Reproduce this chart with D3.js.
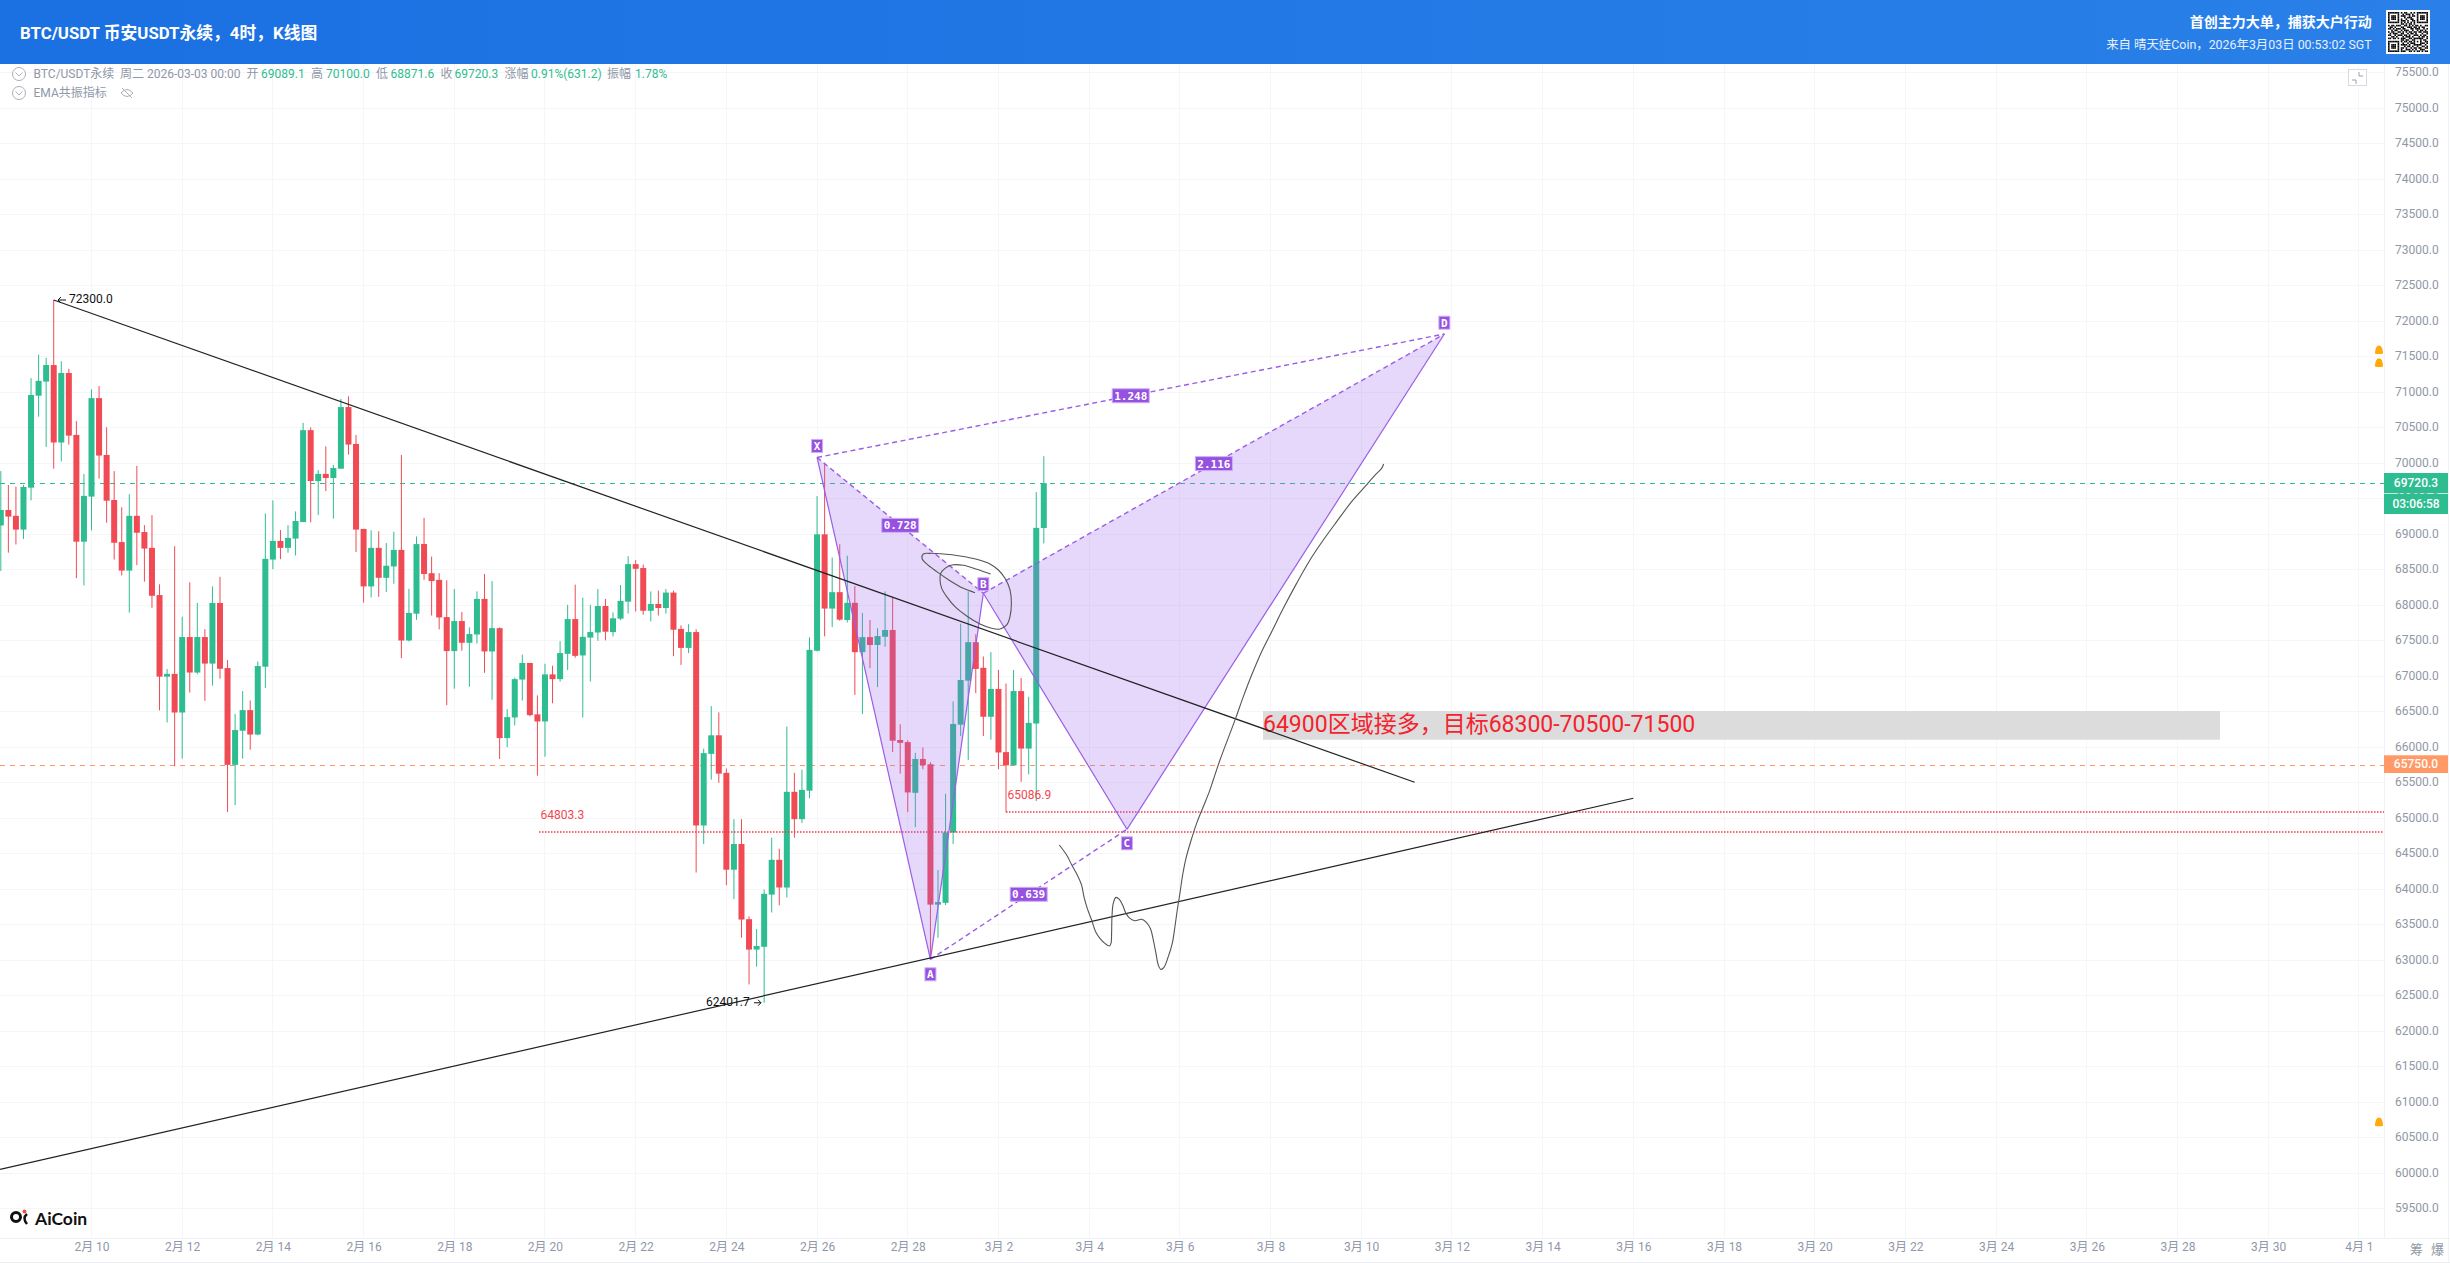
<!DOCTYPE html>
<html>
<head>
<meta charset="utf-8">
<title>BTC/USDT</title>
<script src="https://cdn.jsdelivr.net/npm/d3@7"></script>
<style>
html, body { margin: 0; padding: 0; background: #fff; overflow: hidden; }
svg { display: block; }
text { font-family: Roboto, "Noto Sans CJK SC", sans-serif; }
</style>
</head>
<body>
<svg width="2450" height="1263"></svg>
<script>
// 4h bars, first one is 2月 8 00:00, bar number 12 is 2月 10 00:00
const opens = [
  69124, 69342, 69260, 69066, 69657, 70952, 71151, 71384, 70293, 71272,
  70400, 68896, 69531, 70918, 70118, 69483, 68891, 68489, 69260, 69032,
  68809, 68144, 66995, 67034, 66490, 67553, 67053, 67553, 67179, 68033,
  67116, 65753, 66233, 66524, 66180, 67135, 68644, 68906, 68809, 68940,
  69172, 70467, 69750, 69851, 69793, 69924, 70792, 70273, 69076, 68266,
  68809, 68387, 68547, 68780, 67504, 67882, 68864, 68452, 68358, 67834,
  67355, 67778, 67472, 67589, 68090, 67350, 67678, 66130, 66420, 66954,
  67188, 66464, 66364, 67027, 66960, 67316, 67806, 67294, 67545, 67617,
  67990, 67623, 67812, 68051, 68580, 68525, 67923, 68018, 67962, 68179,
  67667, 67400, 67623, 64899, 65907, 66169, 65640, 64276, 64638, 63579,
  63151, 63190, 63925, 64415, 64025, 65373, 64988, 65389, 67360, 69000,
  67954, 68185, 67793, 68035, 67340, 67552, 67441, 67557, 67652, 66103,
  66073, 65359, 65836, 65761, 63784, 63809, 64800, 66319, 66938, 67481,
  67119, 66430, 66822, 65932, 65746, 66792, 65982, 66335, 69089.1
];
const highs = [
  69890, 69696, 69672, 69696, 71200, 71530, 71486, 72300, 71437, 71331,
  70594, 69851, 71040, 71088, 70506, 69890, 69381, 69565, 69963, 69129,
  69270, 68295, 67102, 68833, 67839, 68324, 68033, 67664, 68266, 68401,
  67228, 66471, 66791, 66660, 67208, 69294, 69478, 69061, 69129, 69323,
  70569, 70506, 69905, 70239, 69978, 70909, 70943, 70400, 69076, 69056,
  69042, 68877, 69037, 70118, 68232, 68969, 69232, 68686, 68452, 68352,
  68229, 67907, 67689, 68196, 68441, 68341, 67689, 66537, 66982, 67305,
  67188, 66731, 67177, 67149, 67494, 68007, 68291, 68107, 68007, 68229,
  68090, 67901, 68285, 68692, 68636, 68575, 68196, 68207, 68229, 68207,
  67717, 67734, 67661, 65980, 66581, 66492, 65701, 64988, 64988, 63618,
  63440, 63997, 64727, 64571, 66291, 65640, 65685, 67550, 69539, 70006,
  68673, 68860, 68699, 68271, 67894, 67793, 67677, 68196, 68120, 66324,
  66098, 65922, 65998, 65791, 64272, 65344, 66646, 67743, 68196, 67592,
  67280, 67340, 67089, 66898, 67089, 66978, 66712, 69594, 70100
];
const lows = [
  68484, 68741, 68857, 68935, 69478, 70657, 70230, 69924, 70026, 70264,
  68382, 68280, 69056, 69784, 69163, 68644, 68421, 67897, 68566, 68333,
  67965, 66520, 66350, 65734, 65840, 66772, 67029, 66655, 66869, 66966,
  65089, 65186, 65840, 65967, 66170, 66835, 68508, 68649, 68741, 68702,
  69172, 69168, 69270, 69609, 69221, 69924, 70123, 68751, 68038, 68110,
  68120, 68188, 68304, 67257, 67490, 67795, 68358, 67856, 67661, 66592,
  66826, 67361, 66854, 67461, 67049, 66670, 65835, 66002, 66308, 66659,
  66436, 65601, 65868, 66620, 66926, 67088, 67261, 66420, 66926, 67500,
  67506, 67561, 67790, 67884, 67912, 67868, 67773, 67856, 67884, 67283,
  67160, 67327, 64236, 64637, 65545, 65501, 64058, 63863, 63318, 62660,
  62911, 62401.7, 63674, 63775, 63886, 64727, 64933, 65283, 67350, 67562,
  67693, 67783, 67758, 66737, 66470, 67114, 66848, 67416, 65932, 65630,
  65087, 64876, 65691, 63015, 63317, 63779, 64639, 66158, 65821, 66762,
  66158, 66108, 65691, 65086.9, 65746, 65515, 65620, 65243, 68871.6
];
const closes = [
  69342, 69250, 69066, 69667, 70962, 71161, 71384, 70293, 71272, 70390,
  68896, 69541, 70918, 70109, 69473, 68881, 68489, 69260, 69022, 68799,
  68134, 66995, 67034, 66490, 67553, 67053, 67553, 67179, 68033, 67106,
  65753, 66243, 66524, 66180, 67145, 68654, 68906, 68809, 68949, 69187,
  70467, 69750, 69851, 69793, 69934, 70792, 70264, 69066, 68266, 68809,
  68387, 68557, 68780, 67504, 67892, 68862, 68441, 68341, 67829, 67355,
  67778, 67472, 67595, 68090, 67350, 67678, 66130, 66425, 66960, 67188,
  66453, 66364, 67027, 66960, 67327, 67806, 67288, 67556, 67623, 67990,
  67628, 67817, 68062, 68580, 68514, 67923, 68018, 67962, 68179, 67656,
  67400, 67623, 64899, 65918, 66169, 65629, 64276, 64638, 63574, 63151,
  63201, 63936, 64415, 64025, 65373, 64988, 65400, 67372, 69000, 67954,
  68185, 67798, 68035, 67340, 67552, 67441, 67567, 67652, 66093, 66063,
  65364, 65836, 65751, 63784, 63820, 64800, 66329, 66948, 67481, 67104,
  66430, 66822, 65927, 65746, 66792, 65982, 66344, 69091, 69720.3
];

const dayLabels = [
  "2月 10", "2月 12", "2月 14", "2月 16", "2月 18", "2月 20", "2月 22", "2月 24", "2月 26", "2月 28",
  "3月 2", "3月 4", "3月 6", "3月 8", "3月 10", "3月 12", "3月 14", "3月 16", "3月 18", "3月 20",
  "3月 22", "3月 24", "3月 26", "3月 28", "3月 30", "4月 1"
];
const priceTicks = d3.range(59500, 75501, 500);

// [bar, price] drawings, bar counted from 2月 10 00:00
const patternX = [96, 70082];
const patternA = [111, 63014];
const patternB = [118, 68170];
const patternC = [137, 64845];
const patternD = [179, 71821];
const trendDown = [[-5, 72300], [175.07, 65507]];
const trendUp = [[-12.1, 60056], [204, 65282]];
const scribbleB = [
  [118.97, 68441], [117.12, 68507], [115.36, 68563], [113.81, 68568], [112.93, 68521], [112.36, 68450],
  [112.27, 68357], [112.49, 68239], [113.15, 68122], [114.25, 67981], [115.8, 67850], [117.56, 67737],
  [119.1, 67676], [120.21, 67666], [121.09, 67723], [121.53, 67840], [121.71, 68028], [121.53, 68216],
  [120.87, 68380], [119.99, 68497], [118.88, 68582], [117.12, 68648], [114.92, 68695], [112.71, 68723],
  [110.95, 68732], [110.06, 68723], [109.89, 68662], [110.51, 68582], [111.83, 68474], [113.59, 68347],
  [115.36, 68239], [116.9, 68178]
];
const scribblePath = [
  [128.05, 64624], [129.02, 64483], [129.77, 64328], [130.43, 64201], [131, 64060], [131.31, 63896],
  [131.75, 63731], [132.33, 63567], [132.86, 63403], [133.43, 63309], [134.09, 63238], [134.66, 63201],
  [134.89, 63238], [134.97, 63379], [135.02, 63614], [135.19, 63802], [135.55, 63886], [135.99, 63858],
  [136.43, 63778], [136.87, 63661], [137.4, 63591], [138.06, 63558], [138.94, 63577], [139.6, 63530],
  [140.13, 63440], [140.49, 63285], [140.84, 63098], [141.15, 62933], [141.5, 62872], [141.9, 62900],
  [142.47, 63051], [143, 63238], [143.35, 63473], [143.66, 63708], [144.01, 63943], [144.37, 64201],
  [144.81, 64436], [145.43, 64670], [146.22, 64929], [147.1, 65163], [147.9, 65375], [148.42, 65539],
  [149.31, 65821], [151.38, 66408], [152.4, 66713], [153.5, 67018], [154.82, 67347], [156.15, 67628],
  [157.69, 67957], [159.45, 68309], [161.22, 68638], [162.98, 68919], [164.75, 69178], [166.73, 69459],
  [168.49, 69671], [169.82, 69835], [170.7, 69929], [170.96, 69990]
];
const alertPrices = [71597, 71417, 60723];

const legendRow = [
  ["BTC/USDT永续", 33.5, "g"], ["周二 2026-03-03 00:00", 120, "g"],
  ["开", 246.5, "g"], ["69089.1", 261, "v"], ["高", 311, "g"], ["70100.0", 326, "v"],
  ["低", 376, "g"], ["68871.6", 390.5, "v"], ["收", 440.5, "g"], ["69720.3", 454.5, "v"],
  ["涨幅", 504.5, "g"], ["0.91%(631.2)", 531, "v"], ["振幅", 607, "g"], ["1.78%", 635, "v"]
];

const qrRows = [
  "1111111010110010101111111", "1000001001011101001000001", "1011101011100101101011101",
  "1011101000101110001011101", "1011101010010011001011101", "1000001011101001101000001",
  "1111111010101010101111111", "0000000011010110100000000", "1011011100110101011010011",
  "0110100011001110110101100", "1101011101100011011100101", "0010110010111001001011010",
  "1011001101010110110110111", "0101110011001011010001001", "1100101110110100111010110",
  "0011010001011101000101101", "1101101011100110111111001", "0000000011011001100010110",
  "1111111010110110101010011", "1000001001001011100011101", "1011101011110100111110010",
  "1011101000101101001001101", "1011101011010010110110011", "1000001010011101010011100",
  "1111111011100110101101011"
];

const up = "#2ebd91", down = "#f04b55", orange = "#ff9966", purple = "#9b5de5", gridColor = "#f5f6f8", axisText = "#8f97a8";
const chartRight = 2384, chartTop = 64, chartBottom = 1238.5;

const svg = d3.select("svg");
const x = d3.scaleLinear().domain([0, 126]).range([91.5, 1043.8]);
const y = d3.scaleLinear().domain([70000, 60000]).range([463.3, 1173.3]);
const px = p => [x(p[0]), y(p[1])];
const snap = v => Math.round(v - 0.5) + 0.5;
const line = d3.line().x(d => x(d[0])).y(d => y(d[1]));

// header
const defs = svg.append("defs");
const grad = defs.append("linearGradient").attr("id", "head");
grad.append("stop").attr("offset", "0").attr("stop-color", "#1b70e2");
grad.append("stop").attr("offset", "1").attr("stop-color", "#2a80e8");
svg.append("rect").attr("width", 2450).attr("height", chartTop).attr("fill", "url(#head)");
svg.append("text").attr("x", 20).attr("y", 38.5).attr("fill", "#fff").attr("font-size", 16.8).attr("font-weight", 700)
  .text("BTC/USDT 币安USDT永续，4时，K线图");
svg.append("text").attr("x", 2371.7).attr("y", 26.5).attr("text-anchor", "end").attr("fill", "#fff").attr("font-size", 14).attr("font-weight", 700)
  .text("首创主力大单，捕获大户行动");
svg.append("text").attr("x", 2371.7).attr("y", 48.5).attr("text-anchor", "end").attr("fill", "#e6effd").attr("font-size", 12.4)
  .text("来自 晴天娃Coin，2026年3月03日 00:53:02 SGT");
const qr = svg.append("g").attr("transform", "translate(2386,10)");
qr.append("rect").attr("width", 44).attr("height", 44).attr("fill", "#fff");
const qrCell = 40 / qrRows.length;
qrRows.forEach((row, r) => {
  row.split("").forEach((c, i) => {
    if (c === "1") qr.append("rect").attr("x", 2 + i * qrCell).attr("y", 2 + r * qrCell).attr("width", qrCell).attr("height", qrCell).attr("fill", "#000");
  });
});

// axes and grid
svg.append("g").selectAll("line").data(priceTicks).join("line")
  .attr("x1", 0).attr("x2", chartRight).attr("y1", d => snap(y(d))).attr("y2", d => snap(y(d))).attr("stroke", gridColor);
svg.append("g").selectAll("line").data(dayLabels).join("line")
  .attr("x1", (d, i) => snap(x(i * 12))).attr("x2", (d, i) => snap(x(i * 12))).attr("y1", chartTop).attr("y2", chartBottom).attr("stroke", gridColor);
svg.append("line").attr("x1", chartRight + 0.5).attr("x2", chartRight + 0.5).attr("y1", chartTop).attr("y2", chartBottom).attr("stroke", "#f1f2f5");
svg.append("line").attr("x1", 2448.5).attr("x2", 2448.5).attr("y1", chartTop).attr("y2", 1263).attr("stroke", "#f1f2f5");
svg.append("line").attr("x1", 0).attr("x2", 2450).attr("y1", chartBottom).attr("y2", chartBottom).attr("stroke", "#f1f2f5");
svg.append("line").attr("x1", 0).attr("x2", 2450).attr("y1", 1262.5).attr("y2", 1262.5).attr("stroke", "#eceef1");

const yAxis = d3.axisRight(y).tickValues(priceTicks).tickFormat(d => d.toFixed(1)).tickSize(0).tickPadding(11);
const xAxis = d3.axisBottom(x).tickValues(dayLabels.map((d, i) => i * 12)).tickFormat((d, i) => dayLabels[i]).tickSize(0).tickPadding(4);
const yG = svg.append("g").attr("transform", `translate(${chartRight},0)`).call(yAxis);
const xG = svg.append("g").attr("transform", `translate(0,${chartBottom})`).call(xAxis);
[yG, xG].forEach(g => {
  g.select(".domain").remove();
  g.selectAll("text").attr("fill", axisText).attr("font-size", 12).style("font-family", 'Roboto, "Noto Sans CJK SC", sans-serif');
});
yG.selectAll("text").attr("dy", "0.25em");
svg.append("text").attr("x", 2410).attr("y", 1254).attr("fill", "#8f97a8").attr("font-size", 13).text("筹");
svg.append("text").attr("x", 2431).attr("y", 1254).attr("fill", "#8f97a8").attr("font-size", 13).text("爆");

// legend
svg.append("g").selectAll("text").data(legendRow).join("text")
  .attr("x", d => d[1]).attr("y", 77.5).attr("font-size", 12)
  .attr("fill", d => d[2] === "v" ? up : axisText).text(d => d[0]);
svg.append("text").attr("x", 33.5).attr("y", 96.5).attr("font-size", 12).attr("fill", axisText).text("EMA共振指标");
[74, 93].forEach(cy => {
  svg.append("circle").attr("cx", 19).attr("cy", cy).attr("r", 6.5).attr("fill", "#fff").attr("stroke", "#a9afbb");
  svg.append("path").attr("d", `M15.5,${cy - 1.5}L19,${cy + 2}L22.5,${cy - 1.5}`).attr("fill", "none").attr("stroke", "#a9afbb");
});
svg.append("path").attr("d", "M121,93Q127,86 133,93Q127,100 121,93ZM122,88L132,98").attr("fill", "none").attr("stroke", "#a9afbb");
svg.append("rect").attr("x", 2348.5).attr("y", 69.5).attr("width", 18).attr("height", 16).attr("fill", "#fff").attr("stroke", "#d8dbe0");
svg.append("path").attr("d", "M2359,72V76H2363M2352,80H2356V84").attr("fill", "none").attr("stroke", "#9aa0ac");

// logo
svg.append("circle").attr("cx", 16).attr("cy", 1217).attr("r", 4.5).attr("fill", "none").attr("stroke", "#111").attr("stroke-width", 3);
svg.append("path").attr("d", "M27,1214Q22,1218 27,1224").attr("fill", "none").attr("stroke", "#111").attr("stroke-width", 2.5);
svg.append("circle").attr("cx", 24.5).attr("cy", 1211.5).attr("r", 2).attr("fill", "#f0523d");
svg.append("text").attr("x", 35).attr("y", 1225).attr("font-size", 17.5).attr("font-weight", 700).attr("fill", "#111").style("font-family", "Lato").text("AiCoin");

// last price and the 65750 line sit under the candles
const lastClose = closes[closes.length - 1];
svg.append("line").attr("x1", 0).attr("x2", chartRight).attr("y1", snap(y(lastClose))).attr("y2", snap(y(lastClose)))
  .attr("stroke", up).attr("stroke-dasharray", "5 5");
svg.append("line").attr("x1", 0).attr("x2", chartRight).attr("y1", snap(y(65750))).attr("y2", snap(y(65750)))
  .attr("stroke", orange).attr("stroke-dasharray", "5 5");

// candles
const bars = opens.map((o, i) => ({ bar: i - 12, o: o, h: highs[i], l: lows[i], c: closes[i] }));
const candle = svg.append("g").selectAll("g").data(bars).join("g").attr("fill", d => d.c >= d.o ? up : down);
candle.append("rect").attr("x", d => x(d.bar) - 0.5).attr("width", 1).attr("y", d => y(d.h)).attr("height", d => y(d.l) - y(d.h));
candle.append("rect").attr("x", d => x(d.bar) - 3).attr("width", 6).attr("y", d => y(Math.max(d.o, d.c)))
  .attr("height", d => Math.max(1, y(Math.min(d.o, d.c)) - y(Math.max(d.o, d.c))));

// red levels
const levels = [[64803.3, 539, "64803.3"], [65086.9, x(121), "65086.9"]];
levels.forEach(l => {
  svg.append("line").attr("x1", l[1]).attr("x2", chartRight).attr("y1", Math.round(y(l[0]))).attr("y2", Math.round(y(l[0])))
    .attr("stroke", "#f5364a").attr("stroke-width", 1.6).attr("stroke-dasharray", "1.5 1.5");
  svg.append("text").attr("x", l[1] + 1.5).attr("y", y(l[0]) - 13).attr("font-size", 12).attr("fill", "#f5454f").text(l[2]);
});

// XABCD pattern
[[patternX, patternA, patternB], [patternB, patternC, patternD]].forEach(t => {
  svg.append("path").attr("d", line(t) + "Z").attr("fill", "#9b64f0").attr("fill-opacity", 0.25).attr("stroke", "none");
});
[[patternX, patternA], [patternA, patternB], [patternB, patternC], [patternC, patternD]].forEach(s => {
  svg.append("path").attr("d", line(s)).attr("fill", "none").attr("stroke", purple).attr("stroke-width", 1.2);
});
const ratioLegs = [[patternX, patternB, "0.728"], [patternX, patternD, "1.248"], [patternB, patternD, "2.116"], [patternA, patternC, "0.639"]];
ratioLegs.forEach(s => {
  svg.append("path").attr("d", line(s.slice(0, 2))).attr("fill", "none").attr("stroke", purple).attr("stroke-width", 1.4).attr("stroke-dasharray", "5 3.5");
});
ratioLegs.forEach(s => {
  const a = px(s[0]), b = px(s[1]);
  const mx = (a[0] + b[0]) / 2, my = (a[1] + b[1]) / 2;
  svg.append("rect").attr("x", mx - 18.5).attr("y", my - 7).attr("width", 37).attr("height", 14)
    .attr("fill", "#9651e0").attr("stroke", "#cdb0f3");
  svg.append("text").attr("x", mx).attr("y", my + 4).attr("text-anchor", "middle").attr("fill", "#fff").attr("font-size", 11).attr("font-weight", 700)
    .style("font-family", "DejaVu Sans Mono").text(s[2]);
});
[[patternX, "X", -11.5], [patternA, "A", 15], [patternB, "B", -9], [patternC, "C", 14], [patternD, "D", -11.3]].forEach(v => {
  const p = px(v[0]);
  svg.append("rect").attr("x", p[0] - 5.5).attr("y", p[1] + v[2] - 6.5).attr("width", 11).attr("height", 13)
    .attr("fill", "#9651e0").attr("stroke", "#cdb0f3");
  svg.append("text").attr("x", p[0]).attr("y", p[1] + v[2] + 4).attr("text-anchor", "middle").attr("fill", "#fff").attr("font-size", 11)
    .attr("font-weight", 700).style("font-family", "DejaVu Sans Mono").text(v[1]);
});

// note box
svg.append("rect").attr("x", 1263).attr("y", 711).attr("width", 957).attr("height", 28.7).attr("fill", "#dcdcdc");
svg.append("text").attr("x", 1263).attr("y", 732).attr("font-size", 23).attr("fill", "#f5222d").text("64900区域接多，目标68300-70500-71500");

// trend lines and freehand
[trendDown, trendUp].forEach(t => {
  svg.append("path").attr("d", line(t)).attr("fill", "none").attr("stroke", "#222").attr("stroke-width", 1.2);
});
const curve = d3.line().x(d => x(d[0])).y(d => y(d[1])).curve(d3.curveCatmullRom);
[scribbleB, scribblePath].forEach(s => {
  svg.append("path").attr("d", curve(s)).attr("fill", "none").attr("stroke", "#555").attr("stroke-width", 1.1);
});

// high and low markers
svg.append("text").attr("x", 69).attr("y", y(72300) + 3).attr("font-size", 12).attr("fill", "#111").text("72300.0");
svg.append("path").attr("d", `M66,${y(72300)}H58M61,${y(72300) - 3}L58,${y(72300)}L61,${y(72300) + 3}`).attr("fill", "none").attr("stroke", "#111");
svg.append("text").attr("x", 706).attr("y", y(62401.7) + 3).attr("font-size", 12).attr("fill", "#111").text("62401.7");
svg.append("path").attr("d", `M754,${y(62401.7)}H761M758,${y(62401.7) - 3}L761,${y(62401.7)}L758,${y(62401.7) + 3}`).attr("fill", "none").attr("stroke", "#111");

// alert bells
alertPrices.forEach(p => {
  const g = svg.append("g").attr("transform", `translate(2379,${y(p)})`).attr("fill", "#ffa90a");
  g.append("path").attr("d", "M-4,3.2Q-3.6,-4 0,-4.4Q3.6,-4 4,3.2Q4.6,4.2 0,4.2Q-4.6,4.2 -4,3.2Z");
});

// price tags
const tags = [
  [473, 20, up, "69720.3"], [493.7, 20.3, up, "03:06:58"], [755.3, 17.7, orange, "65750.0"]
];
tags.forEach(t => {
  svg.append("rect").attr("x", chartRight).attr("y", t[0]).attr("width", 64).attr("height", t[1]).attr("fill", t[2]);
  svg.append("text").attr("x", chartRight + 32).attr("y", t[0] + t[1] / 2 + 4.3).attr("text-anchor", "middle").attr("fill", "#fff")
    .attr("font-size", 12).attr("font-weight", 500).text(t[3]);
});
</script>
</body>
</html>
